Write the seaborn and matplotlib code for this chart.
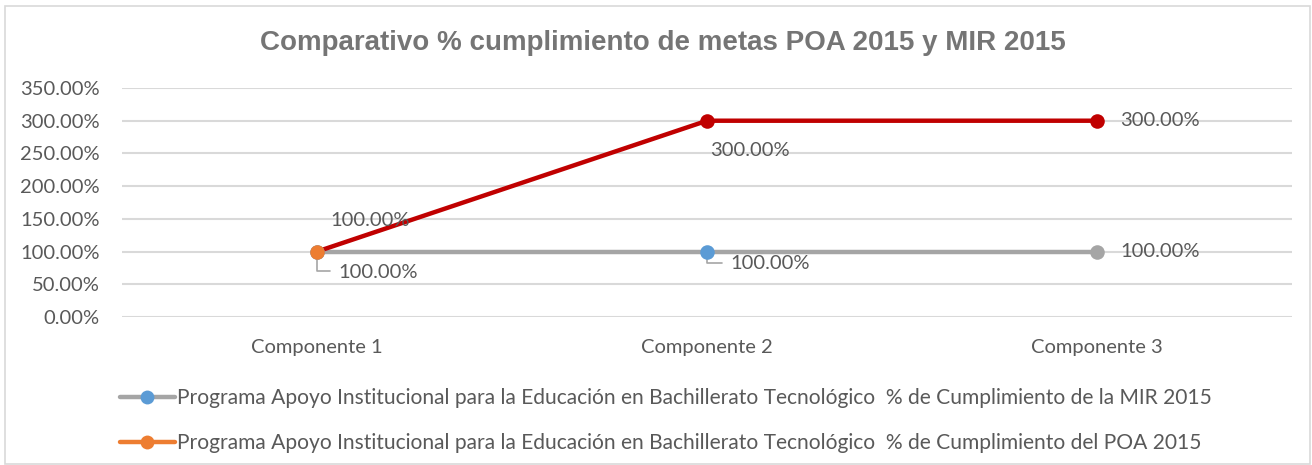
import matplotlib
matplotlib.use("Agg")
import matplotlib.pyplot as plt
from matplotlib.lines import Line2D
from matplotlib.patches import Rectangle
from matplotlib.ticker import FuncFormatter
import seaborn as sns
import pandas as pd

categories = ["Componente 1", "Componente 2", "Componente 3"]
mir_values = [1.0, 1.0, 1.0]
poa_values = [1.0, 3.0, 3.0]
series_names = [
    "Programa Apoyo Institucional para la Educación en Bachillerato Tecnológico  % de Cumplimiento de la MIR 2015",
    "Programa Apoyo Institucional para la Educación en Bachillerato Tecnológico  % de Cumplimiento del POA 2015",
]
title = "Comparativo % cumplimiento de metas POA 2015 y MIR 2015"
yticks = [0, 0.5, 1.0, 1.5, 2.0, 2.5, 3.0, 3.5]

GRAY = "#A5A5A5"
RED = "#C00000"
BLUE = "#5B9BD5"
ORANGE = "#ED7D31"
TXT = "#595959"
TITLE = "#757575"
GRID = "#D9D9D9"

sns.set_theme(style="white")
plt.rcParams["font.family"] = ["Lato", "DejaVu Sans"]

fig = plt.figure(figsize=(13.12, 4.65), dpi=100)
ax = fig.add_axes([122 / 1312, 1 - 317 / 465, (1292 - 122) / 1312, (317 - 88) / 465])

df = pd.DataFrame({
    "x": list(range(3)) * 2,
    "y": mir_values + poa_values,
    "s": [series_names[0]] * 3 + [series_names[1]] * 3,
})

sns.lineplot(data=df, x="x", y="y", hue="s", palette=[GRAY, RED], linewidth=3.2,
             legend=False, ax=ax, zorder=3, sort=False)

# markers with per-point colours
mir_marker_colors = [BLUE, BLUE, GRAY]
poa_marker_colors = [ORANGE, RED, RED]
mk = pd.DataFrame({
    "x": list(range(3)) * 2,
    "y": mir_values + poa_values,
    "c": mir_marker_colors + poa_marker_colors,
})
for i, row in mk.iterrows():
    ax.scatter(row["x"], row["y"], s=110, color=row["c"], zorder=5 + i, linewidths=0)

ax.set_xlim(-0.5, 2.5)
ax.set_ylim(0, 3.5)
ax.set_yticks(yticks)
ax.yaxis.set_major_formatter(FuncFormatter(lambda v, p: f"{v*100:.2f}%"))
ax.set_xticks(range(3))
ax.set_xticklabels(categories)
ax.set_xlabel("")
ax.set_ylabel("")
fs = 14.5
ax.tick_params(axis="both", length=0, labelsize=fs, colors=TXT)
ax.tick_params(axis="y", pad=16)
ax.tick_params(axis="x", pad=16)
for sp in ax.spines.values():
    sp.set_visible(False)
ax.grid(axis="y", color=GRID, linewidth=1.5)
ax.set_axisbelow(True)

def lab(v):
    return f"{v*100:.2f}%"

# POA labels
ax.annotate(lab(poa_values[0]), (0, poa_values[0]), xytext=(53, 31), textcoords="offset pixels",
            ha="center", va="center", fontsize=fs, color=TXT, zorder=10)
ax.annotate(lab(poa_values[1]), (1, poa_values[1]), xytext=(43, -30), textcoords="offset pixels",
            ha="center", va="center", fontsize=fs, color=TXT, zorder=10)
ax.annotate(lab(poa_values[2]), (2, poa_values[2]), xytext=(23, 0), textcoords="offset pixels",
            ha="left", va="center", fontsize=fs, color=TXT, zorder=10)
# MIR labels
ax.annotate(lab(mir_values[0]), (0, mir_values[0]), xytext=(21, -21), textcoords="offset pixels",
            ha="left", va="center", fontsize=fs, color=TXT, zorder=10)
ax.annotate(lab(mir_values[1]), (1, mir_values[1]), xytext=(23, -12), textcoords="offset pixels",
            ha="left", va="center", fontsize=fs, color=TXT, zorder=10)
ax.annotate(lab(mir_values[2]), (2, mir_values[2]), xytext=(23, 0), textcoords="offset pixels",
            ha="left", va="center", fontsize=fs, color=TXT, zorder=10)
# leader lines
for xi, (dx, dy) in [(0, (13, -19)), (1, (15, -11))]:
    ax.annotate("", xy=(xi, mir_values[xi]), xytext=(dx, dy), textcoords="offset pixels",
                arrowprops=dict(arrowstyle="-", color="#A6A6A6", lw=1.2, shrinkA=0, shrinkB=0,
                                connectionstyle="angle,angleA=0,angleB=90,rad=0"),
                zorder=2)

fig.text(663 / 1312, 1 - 43 / 465, title, ha="center", va="center", fontsize=20,
         fontweight="bold", color=TITLE, family=["Liberation Sans", "DejaVu Sans"])

handles = [
    Line2D([0], [0], color=GRAY, lw=3.2, marker="o", markersize=10, markerfacecolor=BLUE,
           markeredgewidth=0),
    Line2D([0], [0], color=ORANGE, lw=3.2, marker="o", markersize=10, markerfacecolor=ORANGE,
           markeredgewidth=0),
]
leg = fig.legend(handles, series_names, loc="upper left", bbox_to_anchor=(120 / 1312, 1 - 388 / 465),
                 frameon=False, fontsize=15.1, handlelength=2.6, handletextpad=0.1,
                 labelspacing=1.2, borderpad=0, borderaxespad=0)
for t in leg.get_texts():
    t.set_color(TXT)

fig.patches.append(Rectangle((5 / 1312, 0.002), 1 - 7 / 1312, 1 - 7 / 465, transform=fig.transFigure,
                             fill=False, edgecolor=GRID, linewidth=1.2))

fig.savefig("out.png", dpi=100, facecolor="white")
